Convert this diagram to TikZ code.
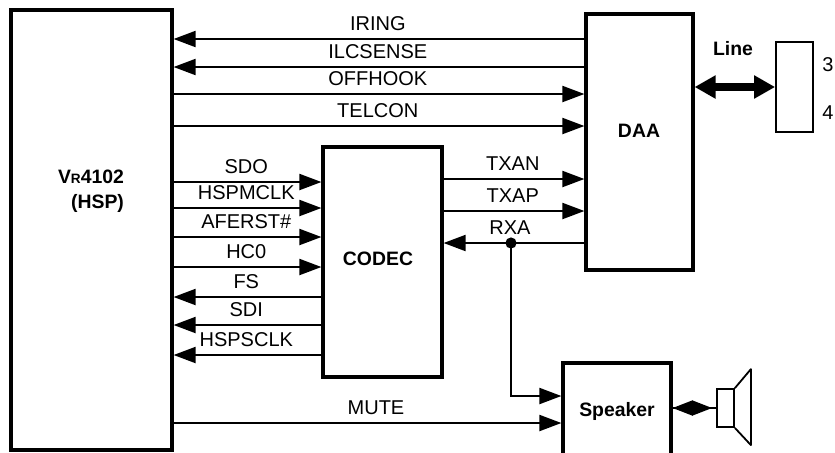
\documentclass[tikz,border=0pt]{standalone}
\usepackage{fontspec}
\setmainfont{Liberation Sans}
\usepackage{tikz}
\usetikzlibrary{arrows.meta,positioning,calc}
\tikzset{
  blk/.style={draw,line width=1.6pt,inner sep=0pt},
  sig/.style={line width=1pt,-{Triangle[length=11pt,width=8pt]}},
  sigtxt/.style={font=\fontsize{10}{12}\selectfont,yshift=7.8pt,xshift=-.6pt,inner sep=0pt},
  boldtxt/.style={font=\fontsize{9.7}{12.5}\selectfont\bfseries,inner sep=0pt},
  pintxt/.style={font=\fontsize{10}{12}\selectfont,inner sep=0pt}
}

\begin{document}
\begin{tikzpicture}[x=.5pt,y=-.5pt]
\useasboundingbox (0,0) rectangle (835,452);
\node[blk,minimum width=80.5pt,minimum height=220pt] (vr) at (91.5,230) {};
\node[blk,minimum width=53.5pt,minimum height=128pt] (daa) at (639.5,142) {};
\node[blk,minimum width=59.5pt,minimum height=115pt] (codec) at (382.5,262) {};
\node[blk,minimum width=54pt,minimum height=48pt,font=\fontsize{9.7}{12}\selectfont\bfseries] (spk) at (617,411) {Speaker};
\node[draw,line width=.9pt,minimum width=18.5pt,minimum height=45pt] (conn) at (794.5,87) {};
\node[draw,line width=.9pt,minimum width=8.5pt,minimum height=19pt,inner sep=0pt] (horn) at (725.5,408) {};
\node[boldtxt,align=right] (vrtxt) at (91,191) {V{\fontsize{6.8}{8}\selectfont R}4102\\(HSP)};
\node[boldtxt] (daatxt) at (639,131) {DAA};
\node[boldtxt] (codectxt) at (378,259) {CODEC};
\node[boldtxt] (linetxt) at (733,49) {Line};
\node[pintxt] (pin3) at (828,65) {3};
\node[pintxt] (pin4) at (828,113) {4};
% long lines past the codec
\foreach \y/\lab in {39/IRING,67/ILCSENSE}
  \draw[sig] (daa.west |- 0,\y) -- (vr.east |- 0,\y) node[midway,sigtxt]{\lab};
\foreach \y/\lab in {94/OFFHOOK,126/TELCON}
  \draw[sig] (vr.east |- 0,\y) -- (daa.west |- 0,\y) node[midway,sigtxt]{\lab};
% host to codec
\foreach \y/\lab in {182/SDO,208/HSPMCLK,237/AFERST\#,267/HC0}
  \draw[sig] (vr.east |- 0,\y) -- (codec.west |- 0,\y) node[midway,sigtxt]{\lab};
\foreach \y/\lab in {297/FS,325/SDI,355/HSPSCLK}
  \draw[sig] (codec.west |- 0,\y) -- (vr.east |- 0,\y) node[midway,sigtxt]{\lab};
% codec to daa
\foreach \y/\lab in {179/TXAN,211/TXAP}
  \draw[sig] (codec.east |- 0,\y) -- (daa.west |- 0,\y) node[midway,sigtxt]{\lab};
\draw[sig] (daa.west |- 0,243) -- (codec.east |- 0,243) node[midway,sigtxt,xshift=-1.4pt]{RXA};
\coordinate (rxa) at (511,243);
\fill (rxa) circle (2.8pt);
\draw[sig] (rxa) |- (spk.west |- 0,396);
\draw[sig] (vr.east |- 0,423) -- (spk.west |- 0,423) node[pos=.525,sigtxt]{MUTE};
\draw[line width=4.2pt,{Triangle[length=10.5pt,width=11pt]}-{Triangle[length=10.5pt,width=11pt]}] (daa.east |- 0,87) -- (conn.west);
\draw[line width=.9pt] (spk.east |- horn.west) -- (horn.west);
\draw[line width=.9pt,{Triangle[length=10pt,width=7.5pt]}-{Triangle[length=10pt,width=7.5pt]},shorten >=2pt] (spk.east |- horn.west) -- (horn.west);
\draw[line width=.9pt,line join=round] (horn.north east) -- ++(16,-19) -- ++(0,76) -- (horn.south east);
\end{tikzpicture}
\end{document}
